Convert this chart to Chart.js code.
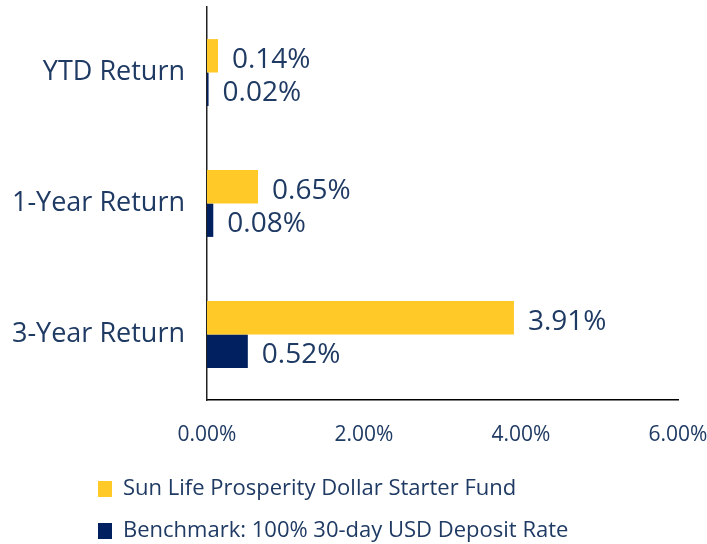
<!DOCTYPE html>
<html lang="en">
  <head>
    <meta charset="utf-8" />
    <title>Fund Returns</title>
    <style>
      * {
        margin: 0;
        padding: 0;
      }
      body {
        background: white;
      }
    </style>
  </head>
  <body>
    <canvas id="myChart" width="707" height="544"></canvas>

    <script src="https://cdn.jsdelivr.net/npm/chart.js@4.4.1/dist/chart.umd.min.js"></script>

    <script>
      // data block
      const categories = ["YTD Return", "1-Year Return", "3-Year Return"];
      const fundReturns = [0.14, 0.65, 3.91];
      const benchmarkReturns = [0.02, 0.08, 0.52];
      const seriesNames = [
        "Sun Life Prosperity Dollar Starter Fund",
        "Benchmark: 100% 30-day USD Deposit Rate",
      ];

      const textColor = "#1f3a63";
      const fontFamily = "'Open Sans', sans-serif";

      const data = {
        labels: categories,
        datasets: [
          {
            label: seriesNames[0],
            data: fundReturns,
            backgroundColor: "#ffc928",
          },
          {
            label: seriesNames[1],
            data: benchmarkReturns,
            backgroundColor: "#012060",
          },
        ],
      };

      // value labels next to each bar
      const valueLabels = {
        id: "valueLabels",
        afterDatasetsDraw(chart) {
          const { ctx } = chart;
          ctx.save();
          ctx.font = "28px " + fontFamily;
          ctx.fillStyle = textColor;
          ctx.textAlign = "left";
          ctx.textBaseline = "middle";
          chart.data.datasets.forEach((ds, i) => {
            chart.getDatasetMeta(i).data.forEach((bar, j) => {
              ctx.fillText(ds.data[j].toFixed(2) + "%", bar.x + 14, bar.y + 4);
            });
          });
          ctx.restore();
        },
      };

      // nudge the legend to where the original puts it
      const legendShift = {
        id: "legendShift",
        afterLayout(chart) {
          const lg = chart.legend;
          lg.left = 78;
          lg.top += 12;
          lg.bottom += 12;
        },
      };

      // config block
      const config = {
        type: "bar",
        data: data,
        options: {
          indexAxis: "y",
          responsive: false,
          animation: false,
          categoryPercentage: 0.51,
          barPercentage: 1.0,
          layout: {
            padding: { top: 7, bottom: 4 },
          },
          scales: {
            x: {
              min: 0,
              max: 6,
              afterFit(scale) {
                scale.height = 46;
                scale.paddingLeft = 0;
                scale.paddingRight = 29;
              },
              ticks: {
                stepSize: 2,
                padding: 22,
                color: textColor,
                font: { family: fontFamily, size: 21 },
                callback: (v) => v.toFixed(2) + "%",
              },
              grid: { display: false, drawTicks: false },
              border: { display: true, color: "#000", width: 1.5 },
            },
            y: {
              afterFit(scale) {
                scale.width = 207;
                scale.paddingTop = 0;
                scale.paddingBottom = 0;
              },
              ticks: {
                padding: 22,
                color: textColor,
                font: { family: fontFamily, size: 27 },
              },
              grid: { display: false, drawTicks: false },
              border: { display: true, color: "#222", width: 1.5 },
            },
          },
          plugins: {
            legend: {
              position: "bottom",
              align: "start",
              labels: {
                color: textColor,
                boxWidth: 14,
                boxHeight: 16,
                padding: 20,
                font: { family: fontFamily, size: 22 },
              },
            },
            tooltip: { enabled: false },
          },
        },
        plugins: [valueLabels, legendShift],
      };

      // init render block
      const myChart = new Chart(document.getElementById("myChart"), config);
    </script>
  </body>
</html>
